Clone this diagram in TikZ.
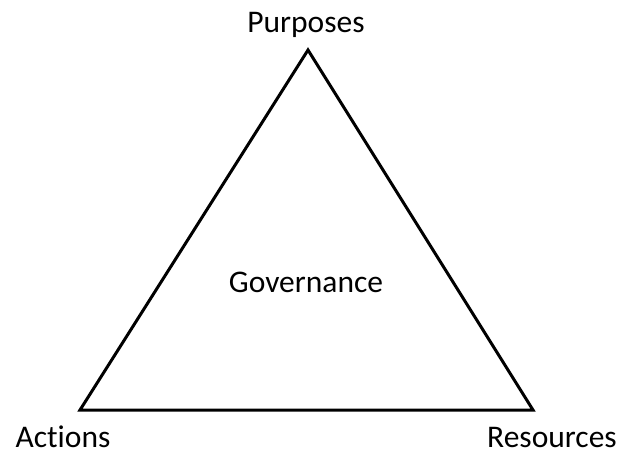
\documentclass[tikz,border=0pt]{standalone}
\usepackage{fontspec}
\setmainfont[Ligatures=NoCommon]{Carlito}
\usetikzlibrary{positioning}

\tikzset{
  corner/.style={font=\fontsize{31.5}{34}\selectfont, anchor=base},
  edge/.style={black, line width=3pt, line join=miter}
}

\begin{document}
\begin{tikzpicture}[x=1pt,y=-1pt]
  \useasboundingbox (0,0) rectangle (621,452);
  % the three corners
  \coordinate (purp) at (308,50);
  \coordinate (act)  at (80,410);
  \coordinate (res)  at (533,410);
  \draw [edge] (purp) -- (act) -- (res) -- cycle;
  % labels
  \node [corner] (purposes)  at (306,33)  {Purposes};
  \node [corner] (actions)   at (63,447)  {Actions};
  \node [corner] (resources) at (552,447) {Resources};
  \node [corner] (gov)       at (306,292) {Governance};
\end{tikzpicture}
\end{document}
